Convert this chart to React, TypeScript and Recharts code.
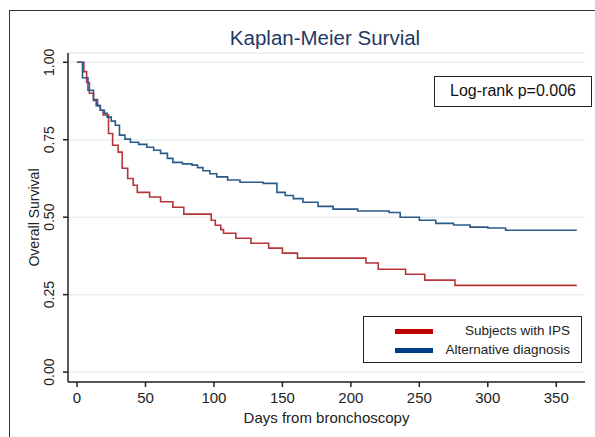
import { LineChart, Line, XAxis, YAxis, CartesianGrid } from "recharts";

// Kaplan-Meier step estimates (days, survival)
const ipsDays = [0, 5, 7, 9, 12, 15, 17, 19, 23, 26, 30, 33, 37, 41, 44, 53, 61, 70, 78, 98, 101, 105, 107, 116, 127, 140, 150, 161, 211, 220, 240, 254, 276, 365];
const ipsSurv = [1.0, 0.97, 0.935, 0.9, 0.88, 0.86, 0.845, 0.83, 0.77, 0.732, 0.71, 0.658, 0.625, 0.603, 0.58, 0.565, 0.55, 0.532, 0.51, 0.49, 0.474, 0.46, 0.448, 0.432, 0.416, 0.4, 0.384, 0.368, 0.352, 0.332, 0.316, 0.297, 0.28, 0.28];

const altDays = [0, 4, 8, 12, 14, 17, 20, 22, 25, 28, 31, 35, 39, 45, 51, 56, 61, 66, 70, 77, 84, 88, 92, 97, 102, 110, 119, 136, 146, 152, 158, 165, 176, 187, 205, 228, 236, 250, 262, 275, 287, 300, 313, 365];
const altSurv = [1.0, 0.95, 0.91, 0.877, 0.86, 0.845, 0.835, 0.823, 0.81, 0.797, 0.765, 0.752, 0.742, 0.735, 0.726, 0.716, 0.706, 0.69, 0.677, 0.672, 0.668, 0.66, 0.65, 0.64, 0.63, 0.62, 0.613, 0.609, 0.58, 0.57, 0.56, 0.548, 0.535, 0.526, 0.52, 0.515, 0.5, 0.49, 0.48, 0.475, 0.468, 0.465, 0.458, 0.458];

const xTicks = [0, 50, 100, 150, 200, 250, 300, 350];
const yTicks = [0, 0.25, 0.5, 0.75, 1];

const seriesNames = ["Subjects with IPS", "Alternative diagnosis"];

const ipsData = ipsDays.map((t, i) => ({ t, s: ipsSurv[i] }));
const altData = altDays.map((t, i) => ({ t, s: altSurv[i] }));

const FONT = "'Liberation Sans', Arial, sans-serif";
const RED = "#b5363a";
const BLUE = "#2b5a8a";

const YTick = ({ x, y, payload }: any) => {
  const cx = x - 12;
  return (
    <text x={cx} y={y} dy="0.35em" transform={`rotate(-90, ${cx}, ${y})`} textAnchor="middle" fontSize={14} fill="#222" fontFamily={FONT}>
      {payload.value.toFixed(2)}
    </text>
  );
};

const LegendBox = () => (
  <div style={{ position: "absolute", left: 363, top: 316, border: "1.5px solid #222", width: 219, height: 47, boxSizing: "border-box", background: "#fff", fontFamily: FONT, fontSize: 13.5, color: "#222" }}>
    {[
      { label: seriesNames[0], color: "#c00000", top: 15 },
      { label: seriesNames[1], color: "#003d85", top: 34 },
    ].map(({ label, color, top }) => (
      <div key={label}>
        <div style={{ position: "absolute", left: 31, top: top - 3, width: 38, height: 5, background: color }} />
        <div style={{ position: "absolute", right: 11, top: top - 9, lineHeight: "16px", whiteSpace: "nowrap" }}>{label}</div>
      </div>
    ))}
  </div>
);

export default function App() {
  return (
    <div style={{ position: "absolute", left: 0, top: 0, width: 595, height: 437, overflow: "hidden", background: "#fff" }}>
      <div style={{ position: "absolute", left: 9, top: 10, width: 620, height: 500, border: "1.5px solid #333" }} />
      <div style={{ position: "absolute", left: 0, top: 0 }}>
        <LineChart width={595} height={437} margin={{ top: 53, right: 10, bottom: 0, left: 0 }}>
          <CartesianGrid vertical={false} stroke="#e6eff3" strokeWidth={1.5} />
          <XAxis
            dataKey="t"
            type="number"
            domain={[-6.6, 371]}
            ticks={xTicks}
            allowDuplicatedCategory={false}
            height={55}
            tickSize={5}
            tickMargin={5}
            stroke="#222"
            strokeWidth={1.5}
            tick={{ fontSize: 15, fill: "#222", fontFamily: FONT }}
            label={{ value: "Days from bronchoscopy", position: "insideBottom", offset: 14, fontSize: 15, fill: "#222", fontFamily: FONT }}
          />
          <YAxis
            dataKey="s"
            type="number"
            domain={[-0.032, 1.03]}
            ticks={yTicks}
            width={68}
            tickSize={5}
            stroke="#222"
            strokeWidth={1.5}
            tick={<YTick />}
            label={{
              content: ({ viewBox }: any) => {
                const lx = viewBox.x + 34;
                const ly = viewBox.y + viewBox.height / 2;
                return (
                  <text x={lx} y={ly} dy="0.35em" transform={`rotate(-90, ${lx}, ${ly})`} textAnchor="middle" fontSize={14} fill="#222" fontFamily={FONT}>
                    Overall Survival
                  </text>
                );
              },
            }}
          />
          <Line data={ipsData} dataKey="s" name={seriesNames[0]} type="stepAfter" stroke={RED} strokeWidth={1.6} dot={false} isAnimationActive={false} />
          <Line data={altData} dataKey="s" name={seriesNames[1]} type="stepAfter" stroke={BLUE} strokeWidth={1.6} dot={false} isAnimationActive={false} />
        </LineChart>
      </div>
      <LegendBox />
      <div style={{ position: "absolute", left: 0, width: 650, top: 26, textAlign: "center", fontFamily: FONT, fontSize: 20.5, color: "#1f3864" }}>
        Kaplan-Meier Survial
      </div>
      <div style={{ position: "absolute", left: 434, top: 76, width: 158, height: 31, boxSizing: "border-box", border: "1.5px solid #222", fontFamily: FONT, fontSize: 16, color: "#111", textAlign: "center", lineHeight: "28px" }}>
        Log-rank p=0.006
      </div>
    </div>
  );
}
